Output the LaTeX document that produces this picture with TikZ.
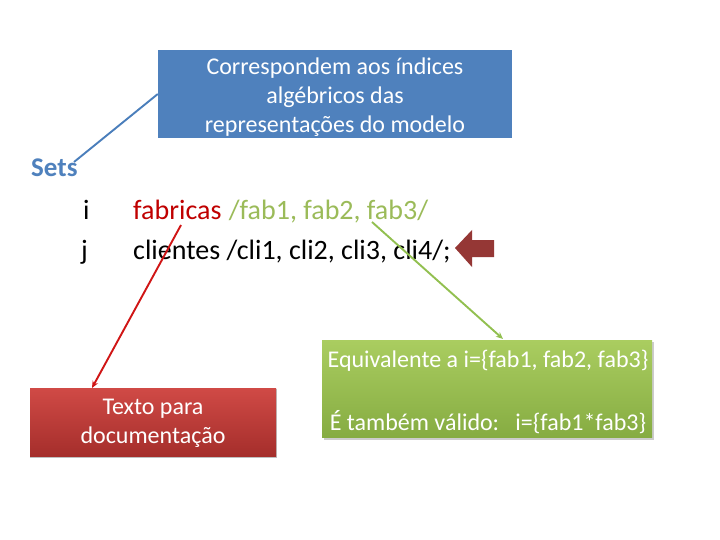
\documentclass[tikz,border=0pt]{standalone}
\usepackage{fontspec}
\setmainfont{Carlito}
\usetikzlibrary{arrows.meta}
\definecolor{boxblue}{HTML}{4F81BD}
\definecolor{fabred}{HTML}{C00000}
\definecolor{fabgreen}{HTML}{9BBB59}
\definecolor{arrowred}{HTML}{953735}
\definecolor{linered}{HTML}{D01515}
\definecolor{linegreen}{HTML}{92C050}
\definecolor{lineblue}{HTML}{4A7EBB}
\definecolor{redtop}{HTML}{D04A46}
\definecolor{redbot}{HTML}{A52E2B}
\definecolor{greentop}{HTML}{AACD60}
\definecolor{greenbot}{HTML}{86AC42}
\begin{document}
\begin{tikzpicture}[x=1pt,y=-1pt,
  txt/.style={inner sep=0pt, anchor=base west, font=\fontsize{28}{34}\selectfont},
  boxtxt/.style={inner sep=0pt, text=white, align=center, font=\fontsize{24}{29}\selectfont},
  conn/.style={line width=1.9pt}
]
\useasboundingbox (0,0) rectangle (720,540);
\fill[white] (0,0) rectangle (720,540);

% blue note
\node[fill=boxblue, minimum width=354pt, minimum height=88pt, inner sep=0pt] (note) at (335,94) {};
\node[boxtxt] (noteText) at (335,97.5)
  {Correspondem aos índices\\algébricos das\\representações do modelo};

% Sets
\node[inner sep=0pt, anchor=base west, text=boxblue, font=\fontsize{27}{32}\selectfont\bfseries] (sets) at (31,177) {Sets};

% index lines
\node[txt] (ii) at (83,219) {i};
\node[txt] (jj) at (81,259) {j};
\node[txt, text=fabred] (fab) at (133,219) {fabricas};
\node[txt, text=fabgreen, anchor=base west] (fabl) at ([xshift=7pt]fab.base east) {/fab1, fab2, fab3/};
\node[txt] (cli) at (133,259) {clientes /cli1, cli2, cli3, cli4/;};

% block arrow
\fill[arrowred] (455,248) -- (472,230) -- (472,240) -- (494,240) -- (494,257) -- (472,257) -- (472,267) -- cycle;

% red box
\fill[gray!50] (30,389) rectangle (277,458);
\node[top color=redtop, bottom color=redbot, minimum width=246pt, minimum height=68pt, inner sep=0pt] (doc) at (153,422) {};
\node[boxtxt] (docText) at (153,423) {Texto para\\documentação};

% green box
\fill[gray!40] (324,342) rectangle (654,440);
\node[top color=greentop, bottom color=greenbot, minimum width=330pt, minimum height=97pt, inner sep=0pt] (equiv) at (487,388.5) {};
\node[boxtxt] (equivText) at (488,392)
  {Equivalente a i=\{fab1, fab2, fab3\}\\[34pt]É também válido:\ \ \ i=\{fab1*fab3\}};

% connectors
\coordinate (blueEnd) at (74,162);
\draw[conn, lineblue] (note.west) -- (blueEnd);

\coordinate (redStart) at (181,225);
\coordinate (redEnd) at (92,388);
\draw[conn, linered, -{Stealth[length=7pt,width=6pt]}] (redStart) -- (redEnd);

\coordinate (greenStart) at (372,222);
\coordinate (greenEnd) at (503,339);
\draw[conn, linegreen, -{Stealth[length=7pt,width=6pt]}] (greenStart) -- (greenEnd);
\end{tikzpicture}
\end{document}
